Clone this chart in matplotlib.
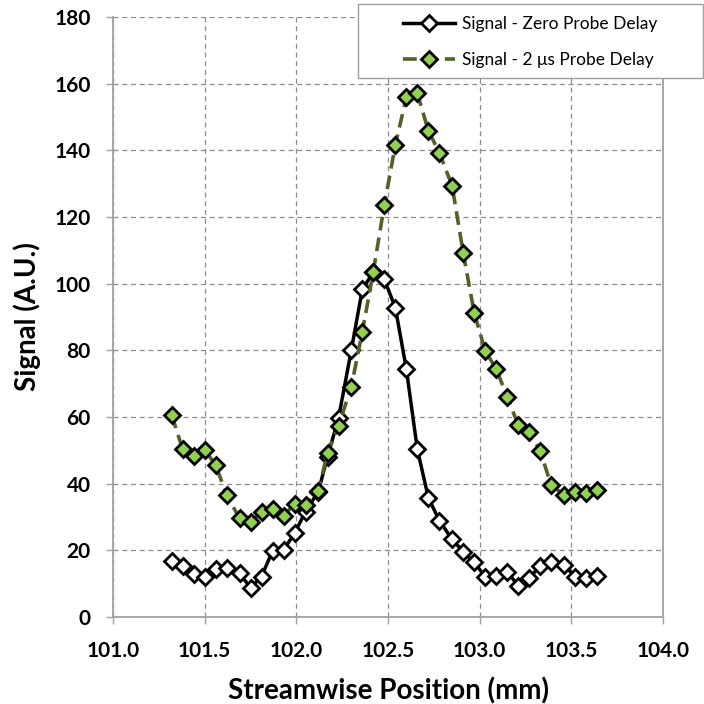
import numpy as np
import matplotlib
matplotlib.use('Agg')
import matplotlib.pyplot as plt
from matplotlib.patches import Rectangle

# streamwise position (mm)
position = [101.32, 101.38, 101.44, 101.50, 101.56, 101.62, 101.69, 101.75, 101.81, 101.87,
            101.93, 101.99, 102.05, 102.12, 102.17, 102.23, 102.30, 102.36, 102.42, 102.48,
            102.54, 102.60, 102.66, 102.72, 102.78, 102.85, 102.91, 102.97, 103.03, 103.09,
            103.15, 103.21, 103.27, 103.33, 103.39, 103.46, 103.52, 103.58, 103.64]

sig_zero = [16.9, 15.3, 12.8, 11.9, 14.3, 14.6, 13.1, 8.8, 12.1, 19.8,
            20.1, 25.1, 31.6, 37.6, 48.1, 59.6, 80.1, 98.3, 103.5, 101.3,
            92.8, 74.4, 50.3, 35.8, 28.9, 23.3, 19.6, 16.4, 12.1, 12.3,
            13.6, 9.4, 11.6, 15.4, 16.6, 15.6, 12.1, 11.6, 12.3]

sig_2us = [60.6, 50.3, 48.4, 50.1, 45.6, 36.6, 29.6, 28.6, 31.4, 32.3,
           30.4, 33.8, 33.6, 37.8, 49.3, 57.3, 69.1, 85.6, 103.6, 123.6,
           141.6, 155.9, 157.1, 145.9, 139.3, 129.3, 109.3, 91.3, 79.9, 74.4,
           66.1, 57.6, 55.6, 49.8, 39.6, 36.6, 37.6, 37.1, 38.1]

labels = ['Signal - Zero Probe Delay', 'Signal - 2 \u03bcs Probe Delay']

plt.rcParams['font.family'] = ['Lato', 'DejaVu Sans']

W = 704.0
fig = plt.figure(figsize=(7.04, 7.04), dpi=100)
ax = fig.add_axes([113/W, 1-617/W, 550/W, 600/W])

ax.plot(position, sig_zero, '-', color='black', lw=2.5, marker='D', ms=8.5,
        mfc='white', mec='black', mew=2, label=labels[0], zorder=3)
ax.plot(position, sig_2us, '--', color='#4F6228', lw=2.6, dashes=(3.8, 2), marker='D', ms=8.5,
        mfc='#92D050', mec='black', mew=2, label=labels[1], zorder=4)

ax.set_xlim(101.0, 104.0)
ax.set_ylim(0, 180)
xt = np.arange(101.0, 104.01, 0.5)
ax.set_xticks(xt)
ax.set_yticks(np.arange(0, 181, 20))
ax.set_xticklabels(['%.1f' % v for v in xt])
ax.tick_params(axis='both', labelsize=15, direction='out', length=5, color='#a0a0a0', width=1)
ax.tick_params(axis='x', pad=12)
ax.tick_params(axis='y', pad=11)
for lab in ax.get_xticklabels() + ax.get_yticklabels():
    lab.set_fontweight('bold')
ax.grid(True, ls=(0, (4, 3)), color='#8c8c8c', lw=0.9)
for s in ax.spines.values():
    s.set_color('#a0a0a0')
    s.set_linewidth(1.3)
ax.spines['top'].set_visible(False)

ax.set_xlabel('Streamwise Position (mm)', fontsize=20, fontweight='bold', labelpad=12)
ax.set_ylabel('Signal (A.U.)', fontsize=20, fontweight='bold', labelpad=10)

# legend box drawn by hand so the padding can match
fig.patches.append(Rectangle((358/W, 1-78/W), 345/W, 74/W, transform=fig.transFigure,
                             facecolor='white', edgecolor='#a0a0a0', lw=1.0, zorder=5))
h, l = ax.get_legend_handles_labels()
leg = fig.legend(h, l, loc='center', bbox_to_anchor=(530.5/W, 1-42/W),
                 fontsize=12.5, frameon=False,
                 handlelength=3.0, handletextpad=0.4, labelspacing=1.15, borderpad=0.0)
leg.set_zorder(6)

fig.savefig('out.png', dpi=100)
